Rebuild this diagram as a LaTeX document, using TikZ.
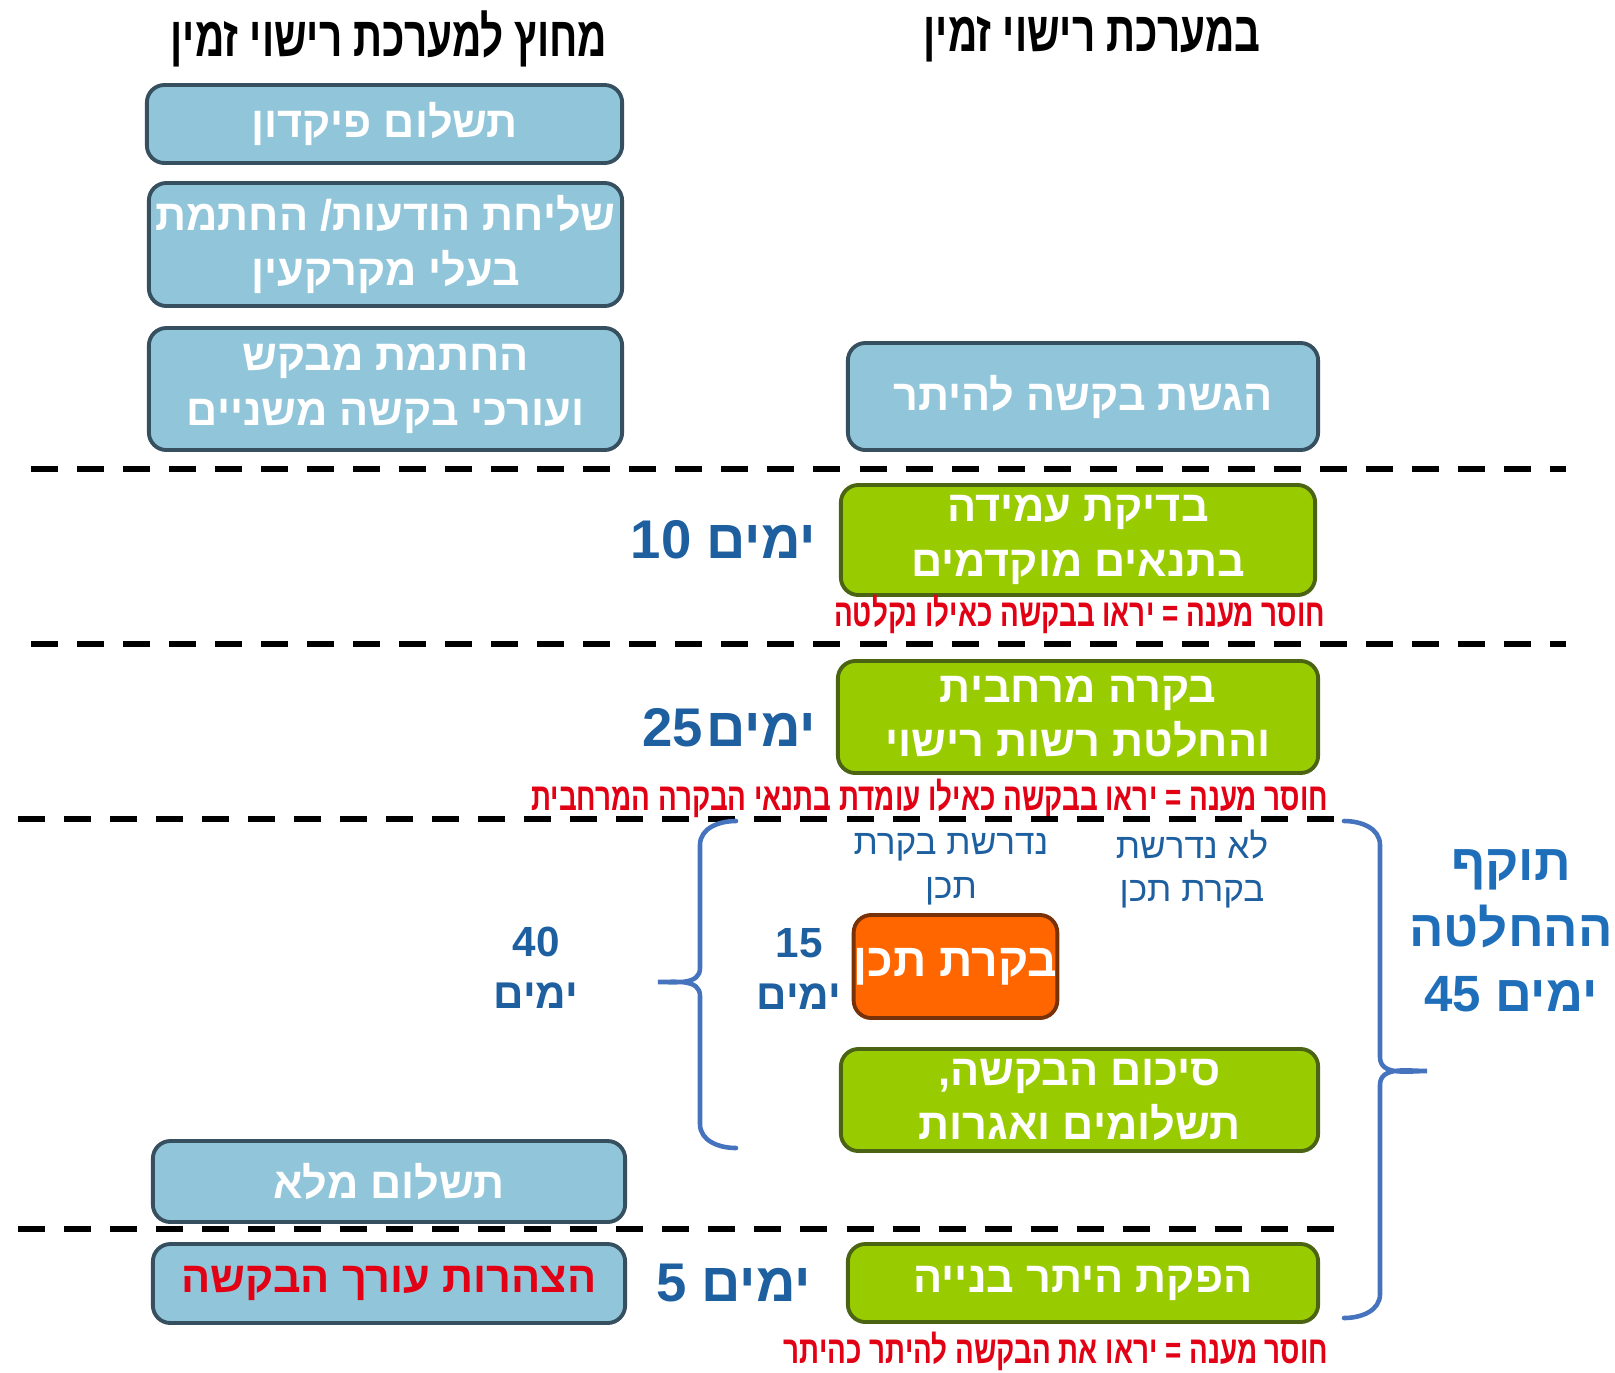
\documentclass[tikz,border=0pt]{standalone}
\usepackage{fontspec}
\usetikzlibrary{positioning}
\TeXXeTstate=1
\newfontfamily\hebfont[Script=Hebrew]{Liberation Sans}
\newfontfamily\hebcond[Script=Hebrew,FakeStretch=0.72]{Liberation Sans}
\newcommand{\heb}[1]{\beginR#1\endR}
\definecolor{boxblue}{RGB}{145,198,218}
\definecolor{bluerim}{RGB}{55,80,95}
\definecolor{boxgreen}{RGB}{153,204,0}
\definecolor{greenrim}{RGB}{75,100,20}
\definecolor{boxorange}{RGB}{255,102,0}
\definecolor{orangerim}{RGB}{120,50,10}
\definecolor{daysblue}{RGB}{30,95,160}
\definecolor{validblue}{RGB}{30,110,185}
\definecolor{notered}{RGB}{225,0,20}
\definecolor{bracecol}{RGB}{70,115,190}

\begin{document}
\begin{tikzpicture}[x=0.01cm,y=-0.01cm,
  box/.style={rectangle,rounded corners=5pt,line width=1.1pt,align=center,inner sep=0pt,text=white,font=\hebfont\bfseries\fontsize{12.3}{15.5}\selectfont},
  bluebox/.style={box,fill=boxblue,draw=bluerim},
  greenbox/.style={box,fill=boxgreen,draw=greenrim},
  head/.style={inner sep=0pt,font=\hebcond\bfseries\fontsize{16}{18}\selectfont},
  days/.style={inner sep=0pt,text=daysblue,font=\hebfont\bfseries\fontsize{15.5}{18}\selectfont},
  count/.style={inner sep=0pt,align=center,text=daysblue,font=\hebfont\bfseries\fontsize{12}{14.7}\selectfont},
  small/.style={inner sep=0pt,align=center,text=daysblue,font=\hebfont\fontsize{10}{12.5}\selectfont},
  note/.style={inner sep=0pt,text=notered,font=\hebcond\bfseries\fontsize{11}{12}\selectfont},
  sep/.style={line width=1.5pt,dash pattern=on 0.27cm off 0.19cm},
  brace/.style={draw=bracecol,line width=1.3pt,line cap=round}]
\useasboundingbox (0,0) rectangle (1615,1372);

\node[head] (outhead) at (389,39) {\heb{מחוץ למערכת רישוי זמין}};
\node[head] (inhead) at (1092,39) {\heb{במערכת רישוי זמין}};

\node[bluebox,minimum width=4.75cm,minimum height=0.78cm] (dep) at (384.5,124) {\heb{תשלום פיקדון}};
\node[bluebox,minimum width=4.73cm,minimum height=1.23cm] (notice) at (385.5,244.5) {\heb{שליחת הודעות\kern0pt/ החתמת}\\\heb{בעלי מקרקעין}};
\node[bluebox,minimum width=4.73cm,minimum height=1.22cm] (sign) at (385.5,389) {\heb{החתמת מבקש}\\\heb{ועורכי בקשה משניים}};
\node[bluebox,minimum width=4.72cm,minimum height=0.81cm] (fullpay) at (389,1181.5) {\heb{תשלום מלא}};
\node[bluebox,minimum width=4.72cm,minimum height=0.79cm,text=notered] (decl) at (389,1283.5) {\heb{הצהרות עורך הבקשה}};

\node[bluebox,minimum width=4.70cm,minimum height=1.07cm] (submit) at (1083,396.5) {\heb{הגשת בקשה להיתר}};
\node[greenbox,minimum width=4.74cm,minimum height=1.10cm] (check) at (1078,540) {\heb{בדיקת עמידה}\\\heb{בתנאים מוקדמים}};
\node[greenbox,minimum width=4.80cm,minimum height=1.12cm] (spatial) at (1078,717) {\heb{בקרה מרחבית}\\\heb{והחלטת רשות רישוי}};
\node[box,fill=boxorange,draw=orangerim,minimum width=1.97cm,minimum height=1.03cm,font=\hebfont\bfseries\fontsize{13.2}{16}\selectfont] (design) at (955.5,966.5) {\heb{בקרת תכן}};
\node[greenbox,minimum width=4.77cm,minimum height=1.02cm] (summary) at (1079.5,1100) {\heb{סיכום הבקשה\kern0pt,}\\\heb{תשלומים ואגרות}};
\node[greenbox,minimum width=4.70cm,minimum height=0.78cm] (permit) at (1083,1283) {\heb{הפקת היתר בנייה}};

\node[days,left=0.22cm of check] (d10) {\heb{ימים 10}};
\node[days,left=0.19cm of spatial,yshift=-0.11cm] (d25) {\heb{ימים\kern1pt 25}};
\node[days,left=0.34cm of permit] (d5) {\heb{ימים 5}};

\node[small] (req) at (951,869) {\heb{נדרשת בקרת}\\\heb{תכן}};
\node[small] (noreq) at (1192,869) {\heb{לא נדרשת}\\\heb{בקרת תכן}};
\node[count] (d40) at (536,968) {40\\\heb{ימים}};
\node[count] (d15) at (799,969) {15\\\heb{ימים}};
\node[count,text=validblue,font=\hebfont\bfseries\fontsize{14.5}{18.7}\selectfont] (valid) at (1511,931) {\heb{תוקף}\\\heb{ההחלטה}\\\heb{ימים 45}};

\node[note,anchor=east] (n1) at (1326,614) {\heb{חוסר מענה = יראו בבקשה כאילו נקלטה}};
\node[note,anchor=east] (n2) at (1329,798) {\heb{חוסר מענה = יראו בבקשה כאילו עומדת בתנאי הבקרה המרחבית}};
\node[note,anchor=east] (n3) at (1329,1351) {\heb{חוסר מענה = יראו את הבקשה להיתר כהיתר}};

\draw[sep] (31,469) -- (1566,469);
\draw[sep] (31,644) -- (1566,644);
\draw[sep] (18,819) -- (1344,819);
\draw[sep] (18,1229) -- (1344,1229);

\draw[brace] (736,821) to[out=180,in=90] (700,845) -- (700,968) to[out=-90,in=0] (658,982)
  to[out=0,in=90] (700,996) -- (700,1124) to[out=-90,in=180] (736,1148);
\draw[brace] (1344,821) to[out=0,in=90] (1380,845) -- (1380,1057) to[out=-90,in=180] (1427,1071)
  to[out=180,in=90] (1380,1085) -- (1380,1294) to[out=-90,in=0] (1344,1318);
\end{tikzpicture}
\end{document}
